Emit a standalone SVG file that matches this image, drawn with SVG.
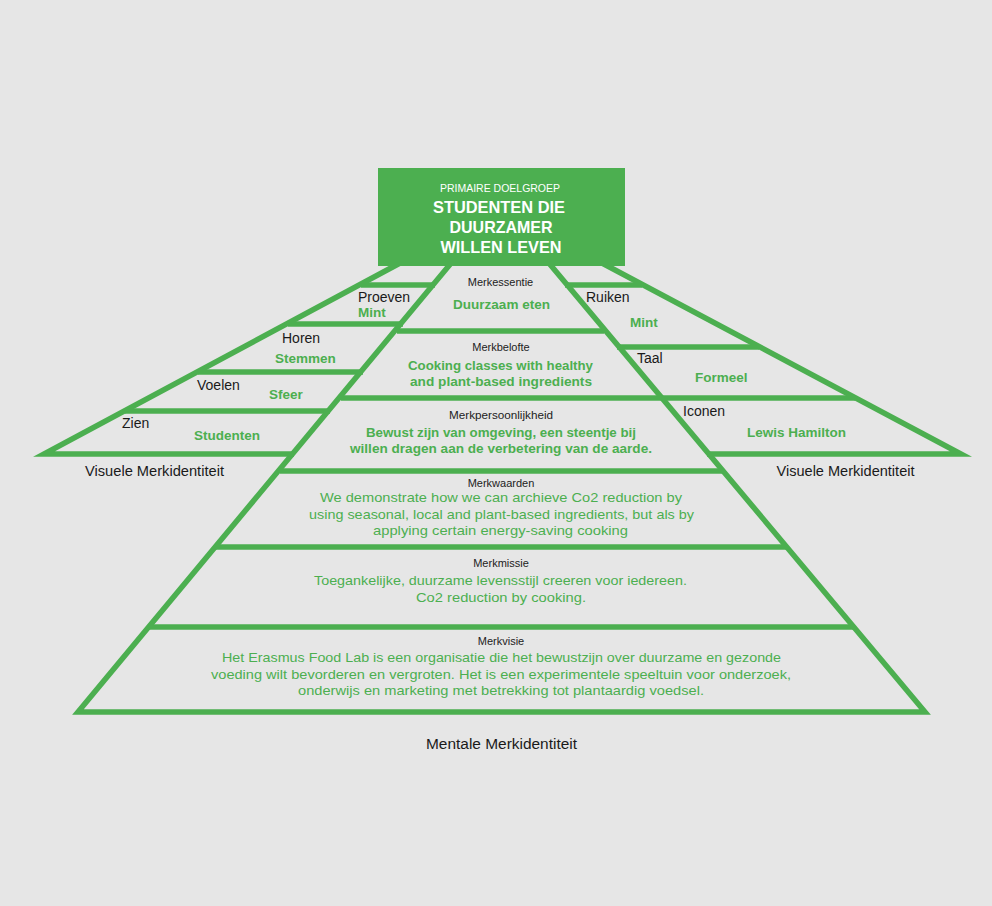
<svg xmlns="http://www.w3.org/2000/svg" width="992" height="906" viewBox="0 0 992 906">
<style>
  .ln{stroke:#4caf50;stroke-width:5.5;fill:none;stroke-linejoin:miter;stroke-miterlimit:12}
  text{font-family:"Liberation Sans",Arial,sans-serif}
  .hd{font-size:11px;fill:#222;text-anchor:middle}
  .gm{font-size:13.5px;font-weight:bold;fill:#4caf50;text-anchor:middle}
  .gr{font-size:13.5px;fill:#4caf50;text-anchor:middle}
  .lb{font-size:14px;fill:#1a1a1a}
  .gl{font-size:13.5px;font-weight:bold;fill:#4caf50}
  .ft{font-size:14px;fill:#1a1a1a;text-anchor:middle}
  .bx{fill:#fff;text-anchor:middle}
</style>
<rect width="992" height="906" fill="#e6e6e6"/>
<g id="connectors">
  <path class="ln" d="M452,262 L78,712 L925,712 L548,262"/>
  <path class="ln" d="M402,262 L44,454 L294,454"/>
  <path class="ln" d="M600,262 L961,454 L707,454"/>
  <line class="ln" x1="361" y1="285" x2="435" y2="285"/>
  <line class="ln" x1="288" y1="324" x2="403" y2="324"/>
  <line class="ln" x1="198" y1="372" x2="363" y2="372"/>
  <line class="ln" x1="125" y1="411" x2="330" y2="411"/>
  <line class="ln" x1="565" y1="285" x2="642" y2="285"/>
  <line class="ln" x1="617" y1="347" x2="759" y2="347"/>
  <line class="ln" x1="397" y1="331" x2="604" y2="331"/>
  <line class="ln" x1="341" y1="398" x2="855" y2="398"/>
  <line class="ln" x1="280" y1="471" x2="722" y2="471"/>
  <line class="ln" x1="216" y1="547" x2="786" y2="547"/>
  <line class="ln" x1="149" y1="627" x2="853" y2="627"/>
</g>
<g id="doelgroep">
  <rect x="378" y="168" width="247" height="98" fill="#4caf50"/>
  <text class="bx" x="500" y="192" font-size="10.5" textLength="120" lengthAdjust="spacingAndGlyphs">PRIMAIRE DOELGROEP</text>
  <text class="bx" x="499" y="212.5" font-size="16.5" font-weight="bold" textLength="132" lengthAdjust="spacingAndGlyphs">STUDENTEN DIE</text>
  <text class="bx" x="501" y="232.5" font-size="16.5" font-weight="bold" textLength="103" lengthAdjust="spacingAndGlyphs">DUURZAMER</text>
  <text class="bx" x="501" y="252.5" font-size="16.5" font-weight="bold" textLength="121" lengthAdjust="spacingAndGlyphs">WILLEN LEVEN</text>
</g>
<g id="merkessentie">
  <text class="hd" x="500.5" y="286">Merkessentie</text>
  <text class="gm" x="501.5" y="309" textLength="97" lengthAdjust="spacingAndGlyphs">Duurzaam eten</text>
</g>
<g id="merkbelofte">
  <text class="hd" x="501" y="351">Merkbelofte</text>
  <text class="gm" x="500.5" y="370" textLength="185" lengthAdjust="spacingAndGlyphs">Cooking classes with healthy</text>
  <text class="gm" x="501" y="386" textLength="182" lengthAdjust="spacingAndGlyphs">and plant-based ingredients</text>
</g>
<g id="merkpersoonlijkheid">
  <text class="hd" x="501" y="419" textLength="104" lengthAdjust="spacingAndGlyphs">Merkpersoonlijkheid</text>
  <text class="gm" x="501" y="437" textLength="270" lengthAdjust="spacingAndGlyphs">Bewust zijn van omgeving, een steentje bij</text>
  <text class="gm" x="501" y="453" textLength="302" lengthAdjust="spacingAndGlyphs">willen dragen aan de verbetering van de aarde.</text>
</g>
<g id="merkwaarden">
  <text class="hd" x="501" y="487">Merkwaarden</text>
  <text class="gr" x="501" y="502" textLength="362" lengthAdjust="spacingAndGlyphs">We demonstrate how we can archieve Co2 reduction by</text>
  <text class="gr" x="501.5" y="518.5" textLength="385" lengthAdjust="spacingAndGlyphs">using seasonal, local and plant-based ingredients, but als by</text>
  <text class="gr" x="500.5" y="535" textLength="255" lengthAdjust="spacingAndGlyphs">applying certain energy-saving cooking</text>
</g>
<g id="merkmissie">
  <text class="hd" x="501" y="567">Merkmissie</text>
  <text class="gr" x="500.5" y="585" textLength="373" lengthAdjust="spacingAndGlyphs">Toegankelijke, duurzame levensstijl creeren voor iedereen.</text>
  <text class="gr" x="501" y="602" textLength="170" lengthAdjust="spacingAndGlyphs">Co2 reduction by cooking.</text>
</g>
<g id="merkvisie">
  <text class="hd" x="501" y="645">Merkvisie</text>
  <text class="gr" x="501.5" y="662" textLength="559" lengthAdjust="spacingAndGlyphs">Het Erasmus Food Lab is een organisatie die het bewustzijn over duurzame en gezonde</text>
  <text class="gr" x="501" y="678.5" textLength="580" lengthAdjust="spacingAndGlyphs">voeding wilt bevorderen en vergroten. Het is een experimentele speeltuin voor onderzoek,</text>
  <text class="gr" x="501" y="695" textLength="406" lengthAdjust="spacingAndGlyphs">onderwijs en marketing met betrekking tot plantaardig voedsel.</text>
</g>
<g id="proeven">
  <text class="lb" x="358" y="301.5">Proeven</text>
  <text class="gl" x="358" y="317">Mint</text>
</g>
<g id="horen">
  <text class="lb" x="282" y="343">Horen</text>
  <text class="gl" x="275" y="362.5">Stemmen</text>
</g>
<g id="voelen">
  <text class="lb" x="197" y="390">Voelen</text>
  <text class="gl" x="269" y="398.5">Sfeer</text>
</g>
<g id="zien">
  <text class="lb" x="122" y="427.5">Zien</text>
  <text class="gl" x="194" y="440">Studenten</text>
</g>
<g id="ruiken">
  <text class="lb" x="586" y="301.5">Ruiken</text>
  <text class="gl" x="630" y="326.5">Mint</text>
</g>
<g id="taal">
  <text class="lb" x="637" y="362.5">Taal</text>
  <text class="gl" x="695" y="382">Formeel</text>
</g>
<g id="iconen">
  <text class="lb" x="683" y="416">Iconen</text>
  <text class="gl" x="747" y="436.5">Lewis Hamilton</text>
</g>
<g id="labels">
  <text class="ft" x="154.5" y="476" textLength="139" lengthAdjust="spacingAndGlyphs">Visuele Merkidentiteit</text>
  <text class="ft" x="845.5" y="476" textLength="138" lengthAdjust="spacingAndGlyphs">Visuele Merkidentiteit</text>
  <text class="ft" x="501.5" y="749" textLength="151" lengthAdjust="spacingAndGlyphs">Mentale Merkidentiteit</text>
</g>
</svg>
